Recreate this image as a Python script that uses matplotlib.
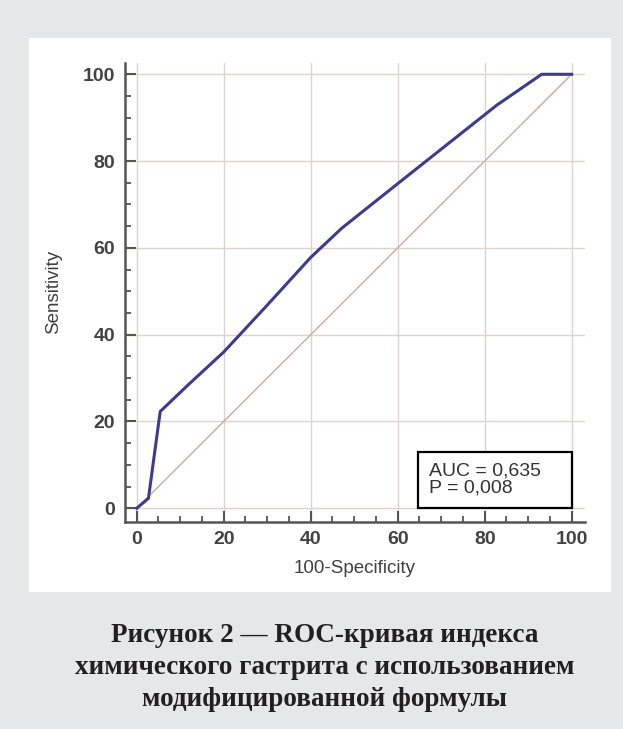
import matplotlib
matplotlib.use('Agg')
from matplotlib import pyplot as plt
from matplotlib.patches import Rectangle
from matplotlib.ticker import MultipleLocator

# ROC curve points (100-Specificity, Sensitivity)
fpr = [0, 2.7, 5.4, 12, 20, 30, 40, 47.1, 60, 82.8, 93.1, 100]
tpr = [0, 2.3, 22.3, 28.6, 36.0, 46.8, 57.8, 64.5, 74.8, 92.9, 100, 100]
diag = [0, 100]
ticks = [0, 20, 40, 60, 80, 100]
auc_text = 'AUC = 0,635\nP = 0,008'
caption = ['Рисунок 2 — ROC-кривая индекса',
           'химического гастрита с использованием',
           'модифицированной формулы']

W, H = 623, 729
fig = plt.figure(figsize=(W / 100, H / 100), dpi=100, facecolor='#e6e7e9')

# white panel behind the chart
fig.add_artist(Rectangle((29 / W, 1 - 592 / H), (611 - 29) / W, (592 - 38) / H,
                         transform=fig.transFigure, facecolor='white',
                         edgecolor='none', zorder=-5))

ax = fig.add_axes([125 / W, 1 - 521.7 / H, (585 - 125) / W, (521.7 - 63) / H])
ax.set_zorder(2)
ax.set_facecolor('white')
ax.set_xlim(-2.69, 103.06)
ax.set_ylim(-3.09, 102.6)

ax.plot(diag, diag, color='#c9a9a3', lw=1.0, zorder=2)
ax.plot(fpr, tpr, color='#3e3a8e', lw=2.2, zorder=3, solid_joinstyle='round')

ax.set_xticks(ticks)
ax.set_yticks(ticks)
ax.xaxis.set_minor_locator(MultipleLocator(5))
ax.yaxis.set_minor_locator(MultipleLocator(5))
ax.grid(True, which='major', color='#ddd2cf', lw=1.0, zorder=1)
ax.set_axisbelow(True)
ax.tick_params(which='major', direction='in', length=8, width=1.5, color='#555555',
               labelsize=14, labelcolor='#424242', pad=7)
ax.tick_params(which='minor', direction='in', length=4, width=1.3, color='#555555')
for lab in ax.get_xticklabels() + ax.get_yticklabels():
    lab.set_fontfamily('Liberation Sans')
    lab.set_fontweight('bold')

for s in ['top', 'right']:
    ax.spines[s].set_visible(False)
for s in ['left', 'bottom']:
    ax.spines[s].set_color('#555555')
    ax.spines[s].set_linewidth(1.8)

ax.set_xlabel('100-Specificity', fontsize=13.5, color='#404040',
              fontfamily='Liberation Sans', labelpad=8)
ax.set_ylabel('Sensitivity', fontsize=13.5, color='#404040',
              fontfamily='Liberation Sans', labelpad=15)

# AUC box
ax.add_patch(Rectangle((64.7, 0), 100 - 64.7, 13, facecolor='white',
                       edgecolor='black', lw=1.6, zorder=4))
ax.text(67.3, 6.6, auc_text, fontsize=14, color='#333333', va='center',
        ha='left', fontfamily='Liberation Sans', linespacing=1.0, zorder=5)

for i, line in enumerate(caption):
    fig.text(325 / W, 1 - (636 + 31.5 * i) / H, line, ha='center', va='center',
             fontsize=19.5, fontweight='bold', fontfamily='Liberation Serif',
             color='#231f20')

fig.savefig('out.png', dpi=100, facecolor=fig.get_facecolor())
